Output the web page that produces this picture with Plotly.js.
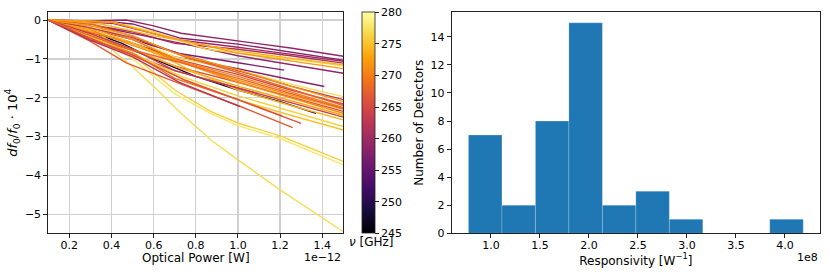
<!DOCTYPE html>
<html>
<head>
<meta charset="utf-8">
<script src="https://cdn.plot.ly/plotly-3.0.1.min.js"></script>
<style>html,body{margin:0;padding:0;background:#fff;}#chart{width:830px;height:277px;}</style>
</head>
<body>
<div id="chart"></div>
<script>
// ---- Left panel data: frequency shift vs optical power (x in 1e-12 W, y in 1e-4) ----
const freqs = [259,258,260,261,259,257,258,276,274,277,248,277,276,278,265,268,270,272,266,271,273,264,274,276,275,269,267,266,262,263,272,272,263,268];
const powers = [
  [0.1,0.3,0.47,0.6,0.73,1.0,1.25,1.5],
  [0.1,0.4,0.5,0.73,1.0,1.25,1.5],
  [0.1,0.4,0.6,0.73,1.0,1.25,1.5],
  [0.1,0.3,0.5,0.7,1.0,1.25,1.5],
  [0.1,0.35,0.55,0.75,1.0,1.25,1.5],
  [0.1,0.3,0.5,0.72,1.0,1.22],
  [0.1,0.3,0.5,0.7,1.0,1.2,1.41],
  [0.1,0.4,0.6,0.85,1.0,1.25,1.5],
  [0.1,0.35,0.6,0.8,1.0,1.25,1.5],
  [0.1,0.3,0.5,0.7,1.03,1.25,1.5],
  [0.1,0.3,0.45,0.6,0.8,1.0,1.2,1.37],
  [0.1,0.2,0.3,0.4,0.5,0.6,0.73,0.87,1.0,1.2,1.5],
  [0.1,0.3,0.5,0.7,0.87,1.0,1.2,1.5],
  [0.1,0.3,0.5,0.7,0.87,1.0,1.2,1.5],
  [0.1,0.28,0.48,0.7,1.0,1.25,1.5],
  [0.1,0.32,0.52,0.75,1.0,1.25,1.5],
  [0.1,0.3,0.5,0.72,1.0,1.25,1.5],
  [0.1,0.33,0.5,0.74,1.0,1.25,1.5],
  [0.1,0.3,0.46,0.71,1.0,1.25,1.5],
  [0.1,0.3,0.5,0.76,1.0,1.25,1.5],
  [0.1,0.27,0.5,0.73,1.0,1.25,1.5],
  [0.1,0.3,0.45,0.7,1.0,1.25,1.5],
  [0.1,0.34,0.55,0.78,1.0,1.25,1.5],
  [0.1,0.3,0.5,0.73,1.0,1.25,1.5],
  [0.1,0.3,0.52,0.75,1.0,1.25,1.5],
  [0.1,0.3,0.5,0.7,1.0,1.21],
  [0.1,0.3,0.47,0.73,1.0,1.26],
  [0.1,0.3,0.5,0.75,1.0,1.3],
  [0.1,0.3,0.5,0.72,1.01],
  [0.1,0.3,0.5,0.74,1.0,1.25,1.5],
  [0.1,0.3,0.5,0.7,1.0,1.25,1.5],
  [0.1,0.4,0.6,0.8,1.0,1.25,1.5],
  [0.1,0.3,0.5,0.7,0.9,1.1],
  [0.1,0.25,0.45,0.73,1.0,1.5]
];
const shifts = [
  [0,-0.02,0,-0.15,-0.34,-0.53,-0.72,-0.93],
  [0,-0.05,-0.1,-0.47,-0.62,-0.82,-1.03],
  [0,-0.08,-0.35,-0.52,-0.7,-0.88,-1.06],
  [0,-0.12,-0.3,-0.6,-0.75,-0.92,-1.11],
  [0,-0.18,-0.4,-0.62,-0.92,-1.15,-1.37],
  [0,-0.22,-0.5,-0.86,-1.1,-1.29],
  [0,-0.3,-0.6,-0.95,-1.25,-1.48,-1.71],
  [0,-0.05,-0.3,-0.75,-0.85,-1.0,-1.18],
  [0,-0.1,-0.4,-0.6,-0.8,-0.98,-1.15],
  [0,-0.12,-0.5,-0.95,-1.33,-1.65,-1.97],
  [0,-0.3,-0.6,-1.0,-1.45,-1.8,-2.1,-2.4],
  [0,-0.2,-0.4,-0.75,-1.2,-1.71,-2.4,-3.08,-3.6,-4.37,-5.45],
  [0,-0.22,-0.9,-1.8,-2.35,-2.65,-2.98,-3.64],
  [0,-0.28,-1.0,-1.9,-2.4,-2.72,-3.05,-3.73],
  [0,-0.3,-0.55,-1.0,-1.4,-1.8,-2.16],
  [0,-0.12,-0.45,-0.95,-1.35,-1.78,-2.2],
  [0,-0.2,-0.5,-1.05,-1.45,-1.85,-2.25],
  [0,-0.35,-0.6,-1.1,-1.55,-1.93,-2.3],
  [0,-0.4,-0.7,-1.2,-1.6,-1.98,-2.35],
  [0,-0.25,-0.65,-1.15,-1.6,-2.0,-2.4],
  [0,-0.3,-0.75,-1.25,-1.7,-2.08,-2.45],
  [0,-0.45,-0.8,-1.3,-1.75,-2.12,-2.5],
  [0,-0.28,-0.7,-1.3,-1.8,-2.2,-2.57],
  [0,-0.38,-0.85,-1.45,-1.95,-2.35,-2.74],
  [0,-0.42,-0.9,-1.55,-2.05,-2.45,-2.83],
  [0,-0.5,-0.85,-1.5,-2.05,-2.47],
  [0,-0.55,-1.1,-1.65,-2.2,-2.77],
  [0,-0.48,-0.9,-1.55,-2.05,-2.66],
  [0,-0.52,-0.95,-1.6,-2.23],
  [0,-0.2,-0.45,-0.9,-1.3,-1.7,-2.05],
  [0,-0.15,-0.4,-0.85,-1.28,-1.7,-2.1],
  [0,-0.05,-0.35,-0.6,-0.85,-1.05,-1.25],
  [0,-0.35,-0.75,-1.3,-1.6,-1.9],
  [0,-0.3,-0.7,-1.1,-1.5,-2.28]
];
const freqTicks = [245,250,255,260,265,270,275,280];
const powerTicks = [0.2,0.4,0.6,0.8,1.0,1.2,1.4];
const shiftTicks = [0,-1,-2,-3,-4,-5];

// ---- Right panel data: responsivity histogram (x in 1e8 W^-1) ----
const binStart = 0.771;
const binWidth = 0.3416;
const counts = [7,2,8,15,2,3,1,0,0,1];
const respTicks = [1.0,1.5,2.0,2.5,3.0,3.5,4.0];

// inferno colormap
const inferno = [
  [0.0,'#000004'],[0.1,'#160b39'],[0.2,'#420a68'],[0.3,'#6a176e'],[0.4,'#932667'],
  [0.5,'#bc3754'],[0.6,'#dd513a'],[0.7,'#f37819'],[0.8,'#fca50a'],[0.9,'#f6d746'],[1.0,'#fcffa4']
];
function hex2rgb(h){return [parseInt(h.slice(1,3),16),parseInt(h.slice(3,5),16),parseInt(h.slice(5,7),16)];}
function cmap(t){
  t=Math.max(0,Math.min(1,t));
  for(let i=0;i<inferno.length-1;i++){
    const [t0,c0]=inferno[i],[t1,c1]=inferno[i+1];
    if(t>=t0&&t<=t1){
      const f=(t-t0)/(t1-t0),a=hex2rgb(c0),b=hex2rgb(c1);
      return 'rgb('+a.map((v,k)=>Math.round(v+(b[k]-v)*f)).join(',')+')';
    }
  }
  return inferno[inferno.length-1][1];
}
const fmin=245,fmax=280;

const traces=[];
freqs.forEach((f,i)=>{
  traces.push({type:'scatter',mode:'lines',x:powers[i],y:shifts[i],xaxis:'x',yaxis:'y',
    line:{color:cmap((f-fmin)/(fmax-fmin)),width:1.4},hoverinfo:'skip',showlegend:false});
});
// colorbar carrier
traces.push({type:'scatter',mode:'markers',x:powers.map(p=>p[0]),y:shifts.map(s=>s[0]),xaxis:'x',yaxis:'y',
  marker:{size:0.1,opacity:0,color:freqs,cmin:fmin,cmax:fmax,colorscale:inferno,showscale:true,
    colorbar:{x:361.5/830,xanchor:'left',y:(277-233.3)/277,yanchor:'bottom',
      len:221/277,lenmode:'fraction',thickness:13,thicknessmode:'pixels',outlinewidth:0.8,outlinecolor:'#222',
      ticks:'outside',ticklen:4,tickcolor:'#222',tickvals:freqTicks,ticktext:freqTicks.map(String),
      tickfont:{family:'DejaVu Sans',size:11,color:'#000'},xpad:0,ypad:0}},
  hoverinfo:'skip',showlegend:false});

// histogram bars
const centers=counts.map((c,i)=>binStart+binWidth*(i+0.5));
traces.push({type:'bar',x:centers,y:counts,width:binWidth,xaxis:'x2',yaxis:'y2',
  marker:{color:'#1f77b4',line:{color:'rgba(255,255,255,0.35)',width:0.6}},hoverinfo:'skip',showlegend:false});

const font={family:'DejaVu Sans',size:11,color:'#000'};
const tfont={family:'DejaVu Sans',size:12,color:'#000'};
const yDom=[(277-233.3)/277,(277-12.3)/277];
const layout={
  width:830,height:277,margin:{l:0,r:0,t:0,b:0,autoexpand:false},paper_bgcolor:'#fff',plot_bgcolor:'#fff',font:font,
  showlegend:false,
  xaxis:{domain:[48.3/830,343.3/830],range:[0.1,1.5],tickvals:powerTicks,ticktext:powerTicks.map(v=>v.toFixed(1)),
    showgrid:true,gridcolor:'#d0d0d0',gridwidth:1.3,zeroline:false,showline:true,linecolor:'#222',linewidth:1,mirror:true,
    ticks:'outside',ticklen:4,tickcolor:'#222',tickfont:font,anchor:'y',automargin:false,ticklabelstandoff:-3,
    title:{text:'Optical Power [W]',font:tfont,standoff:0}},
  yaxis:{domain:yDom,range:[-5.49,0.2],tickvals:shiftTicks,ticktext:shiftTicks.map(v=>v<0?'\u2212'+Math.abs(v):String(v)),
    showgrid:true,gridcolor:'#d0d0d0',gridwidth:1.3,zeroline:false,showline:true,linecolor:'#222',linewidth:1,mirror:true,
    ticks:'outside',ticklen:4,tickcolor:'#222',tickfont:font,anchor:'x',automargin:false,
    title:{text:'<i>df</i><sub>0</sub>/<i>f</i><sub>0</sub> · 10<sup>4</sup>',font:{family:'DejaVu Sans',size:13,color:'#000'},standoff:4}},
  xaxis2:{domain:[451.7/830,820/830],range:[0.600,4.358],tickvals:respTicks,ticktext:respTicks.map(v=>v.toFixed(1)),
    showgrid:false,zeroline:false,showline:true,linecolor:'#222',linewidth:1,mirror:true,
    ticks:'outside',ticklen:4,tickcolor:'#222',tickfont:font,anchor:'y2',automargin:false,ticklabelstandoff:-3,
    title:{text:'Responsivity [W<sup>\u22121</sup>]',font:tfont,standoff:0}},
  yaxis2:{domain:yDom,range:[0,15.75],dtick:2,tick0:0,
    showgrid:false,zeroline:false,showline:true,linecolor:'#222',linewidth:1,mirror:true,
    ticks:'outside',ticklen:4,tickcolor:'#222',tickfont:font,anchor:'x2',automargin:false,
    title:{text:'Number of Detectors',font:tfont,standoff:4}},
  bargap:0,
  annotations:[
    {text:'1e\u221212',xref:'paper',yref:'paper',x:343.3/830,y:(277-249)/277,xanchor:'right',yanchor:'top',showarrow:false,font:font},
    {text:'1e8',xref:'paper',yref:'paper',x:820/830,y:(277-249)/277,xanchor:'right',yanchor:'top',showarrow:false,font:font},
    {text:'<i>ν</i> [GHz]',xref:'paper',yref:'paper',x:347/830,y:(277-233)/277,xanchor:'left',yanchor:'top',showarrow:false,font:tfont}
  ]
};
Plotly.newPlot('chart',traces,layout,{staticPlot:true,displayModeBar:false});
</script>
</body>
</html>
